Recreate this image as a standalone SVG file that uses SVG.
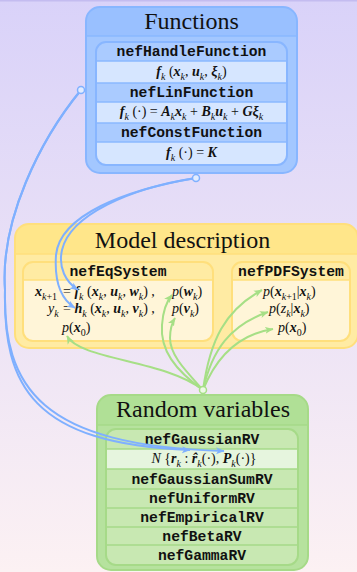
<svg xmlns="http://www.w3.org/2000/svg" width="357" height="572" viewBox="0 0 357 572">
<defs>
<linearGradient id="bg" x1="0" y1="0" x2="0" y2="1"><stop offset="0" stop-color="#d9d2f9"/><stop offset="1" stop-color="#fcf1f3"/></linearGradient>
<clipPath id="co1"><rect x="86" y="7" width="211" height="166" rx="14"/></clipPath>
<clipPath id="co2"><rect x="15" y="224" width="343" height="124" rx="14"/></clipPath>
<clipPath id="co3"><rect x="97" y="395" width="211" height="175" rx="14"/></clipPath>
<clipPath id="cf"><rect x="96" y="42" width="191" height="123" rx="10"/></clipPath>
<clipPath id="ce"><rect x="23" y="262" width="190" height="79" rx="10"/></clipPath>
<clipPath id="cp"><rect x="232" y="262" width="118" height="79" rx="10"/></clipPath>
<clipPath id="cr"><rect x="106" y="429" width="192" height="136" rx="10"/></clipPath>
<marker id="ab" markerUnits="userSpaceOnUse" markerWidth="10" markerHeight="10" refX="8" refY="4" orient="auto"><path d="M0,0.5 L8.5,4 L0,7.5 L2.2,4 Z" fill="#7fb0ff"/></marker>
<marker id="ag" markerUnits="userSpaceOnUse" markerWidth="10" markerHeight="10" refX="8" refY="4" orient="auto"><path d="M0,0.5 L8.5,4 L0,7.5 L2.2,4 Z" fill="#a6df86"/></marker>
<style>
.title{font-family:"Liberation Serif","Times New Roman",serif;font-size:24px;fill:#111;text-anchor:middle}
.cls{font-family:"Liberation Mono","Courier New",monospace;font-size:14.7px;font-weight:bold;fill:#111;text-anchor:middle}
.m{font-family:"Liberation Serif","DejaVu Serif",serif;font-size:14px;fill:#111}
.v{font-weight:bold;font-style:italic}
.i{font-style:italic}
.s{font-size:10px;font-style:italic;font-weight:normal}
.n{font-size:10px;font-style:normal;font-weight:normal}
.bl{fill:none;stroke:#7fb0ff;stroke-width:2}
.gr{fill:none;stroke:#a6df86;stroke-width:2}
.sepB{stroke:#8ab8ff;stroke-width:1.5}
.sepY{stroke:#ffdf7c;stroke-width:1.5}
.sepG{stroke:#a6da88;stroke-width:1.5}
</style>
</defs>
<rect x="0" y="0" width="357" height="572" fill="url(#bg)"/>
<rect x="0" y="0" width="357" height="1.5" fill="#c4bcf0"/>

<g id="functions">
<rect x="86" y="7" width="211" height="166" rx="14" fill="#a3c7ff"/>
<rect x="86" y="7" width="211" height="29" fill="#99c0ff" clip-path="url(#co1)"/>
<line x1="86" y1="36" x2="297" y2="36" class="sepB"/>
<rect x="86" y="7" width="211" height="166" rx="14" fill="none" stroke="#88b6ff" stroke-width="2"/>
<text class="title" x="191.5" y="29">Functions</text>
<g clip-path="url(#cf)">
<rect x="96" y="42" width="191" height="19" fill="#aacbff"/>
<rect x="96" y="61" width="191" height="22" fill="#d6e6ff"/>
<rect x="96" y="83" width="191" height="19" fill="#aacbff"/>
<rect x="96" y="102" width="191" height="21" fill="#d6e6ff"/>
<rect x="96" y="123" width="191" height="19" fill="#aacbff"/>
<rect x="96" y="142" width="191" height="23" fill="#d6e6ff"/>
</g>
<line x1="96" y1="61" x2="287" y2="61" class="sepB"/>
<line x1="96" y1="83" x2="287" y2="83" class="sepB"/>
<line x1="96" y1="102" x2="287" y2="102" class="sepB"/>
<line x1="96" y1="123" x2="287" y2="123" class="sepB"/>
<line x1="96" y1="142" x2="287" y2="142" class="sepB"/>
<rect x="96" y="42" width="191" height="123" rx="10" fill="none" stroke="#88b6ff" stroke-width="2"/>
<text class="cls" x="191.5" y="56">nefHandleFunction</text>
<text class="m" x="191.5" y="76" text-anchor="middle"><tspan class="v">f</tspan><tspan class="s" dy="3.5">k</tspan><tspan dy="-3.5"> (</tspan><tspan class="v">x</tspan><tspan class="s" dy="3.5">k</tspan><tspan dy="-3.5">, </tspan><tspan class="v">u</tspan><tspan class="s" dy="3.5">k</tspan><tspan dy="-3.5">, </tspan><tspan class="v">ξ</tspan><tspan class="s" dy="3.5">k</tspan><tspan dy="-3.5">)</tspan></text>
<text class="cls" x="191.5" y="97">nefLinFunction</text>
<text class="m" x="191.5" y="116" text-anchor="middle"><tspan class="v">f</tspan><tspan class="s" dy="3.5">k</tspan><tspan dy="-3.5"> (·) = </tspan><tspan class="v">A</tspan><tspan class="s" dy="3.5">k</tspan><tspan class="v" dy="-3.5">x</tspan><tspan class="s" dy="3.5">k</tspan><tspan dy="-3.5"> + </tspan><tspan class="v">B</tspan><tspan class="s" dy="3.5">k</tspan><tspan class="v" dy="-3.5">u</tspan><tspan class="s" dy="3.5">k</tspan><tspan dy="-3.5"> + </tspan><tspan class="v">Gξ</tspan><tspan class="s" dy="3.5">k</tspan></text>
<text class="cls" x="191.5" y="137">nefConstFunction</text>
<text class="m" x="191.5" y="157" text-anchor="middle"><tspan class="v">f</tspan><tspan class="s" dy="3.5">k</tspan><tspan dy="-3.5"> (·) = </tspan><tspan class="v">K</tspan></text>
</g>

<g id="model">
<rect x="15" y="224" width="343" height="124" rx="14" fill="#ffeba3"/>
<rect x="15" y="224" width="343" height="30" fill="#ffe68a" clip-path="url(#co2)"/>
<line x1="15" y1="254" x2="358" y2="254" class="sepY"/>
<rect x="15" y="224" width="343" height="124" rx="14" fill="none" stroke="#ffdf7c" stroke-width="2"/>
<text class="title" x="182.5" y="248">Model description</text>
</g>

<g id="nefEqSystem">
<g clip-path="url(#ce)">
<rect x="23" y="262" width="190" height="18" fill="#ffeba3"/>
<rect x="23" y="280" width="190" height="61" fill="#fff5d8"/>
</g>
<line x1="23" y1="280" x2="213" y2="280" class="sepY"/>
<rect x="23" y="262" width="190" height="79" rx="10" fill="none" stroke="#ffdf7c" stroke-width="2"/>
<text class="cls" x="118" y="276">nefEqSystem</text>
<text class="m" x="35" y="296"><tspan class="v">x</tspan><tspan class="n" dy="3.5"><tspan class="i">k</tspan>+1</tspan></text>
<text class="m" x="63" y="296"><tspan>= </tspan><tspan class="v">f</tspan><tspan class="s" dy="3.5">k</tspan><tspan dy="-3.5"> (</tspan><tspan class="v">x</tspan><tspan class="s" dy="3.5">k</tspan><tspan dy="-3.5">, </tspan><tspan class="v">u</tspan><tspan class="s" dy="3.5">k</tspan><tspan dy="-3.5">, </tspan><tspan class="v">w</tspan><tspan class="s" dy="3.5">k</tspan><tspan dy="-3.5">) ,</tspan></text>
<text class="m" x="172" y="296"><tspan class="i">p</tspan><tspan>(</tspan><tspan class="v">w</tspan><tspan class="s" dy="3.5">k</tspan><tspan dy="-3.5">)</tspan></text>
<text class="m" x="48" y="313"><tspan class="i">y</tspan><tspan class="s" dy="3.5">k</tspan></text>
<text class="m" x="63" y="313"><tspan>= </tspan><tspan class="v">h</tspan><tspan class="s" dy="3.5">k</tspan><tspan dy="-3.5"> (</tspan><tspan class="v">x</tspan><tspan class="s" dy="3.5">k</tspan><tspan dy="-3.5">, </tspan><tspan class="v">u</tspan><tspan class="s" dy="3.5">k</tspan><tspan dy="-3.5">, </tspan><tspan class="v">v</tspan><tspan class="s" dy="3.5">k</tspan><tspan dy="-3.5">) ,</tspan></text>
<text class="m" x="172" y="313"><tspan class="i">p</tspan><tspan>(</tspan><tspan class="v">v</tspan><tspan class="s" dy="3.5">k</tspan><tspan dy="-3.5">)</tspan></text>
<text class="m" x="62" y="332"><tspan class="i">p</tspan><tspan>(</tspan><tspan class="v">x</tspan><tspan class="n" dy="3.5">0</tspan><tspan dy="-3.5">)</tspan></text>
</g>

<g id="nefPDFSystem">
<g clip-path="url(#cp)">
<rect x="232" y="262" width="118" height="18" fill="#ffeba3"/>
<rect x="232" y="280" width="118" height="61" fill="#fff5d8"/>
</g>
<line x1="232" y1="280" x2="350" y2="280" class="sepY"/>
<rect x="232" y="262" width="118" height="79" rx="10" fill="none" stroke="#ffdf7c" stroke-width="2"/>
<text class="cls" x="291" y="276">nefPDFSystem</text>
<text class="m" x="263" y="296"><tspan class="i">p</tspan><tspan>(</tspan><tspan class="v">x</tspan><tspan class="n" dy="3.5"><tspan class="i">k</tspan>+1</tspan><tspan dy="-3.5">|</tspan><tspan class="v">x</tspan><tspan class="s" dy="3.5">k</tspan><tspan dy="-3.5">)</tspan></text>
<text class="m" x="269" y="313"><tspan class="i">p</tspan><tspan>(</tspan><tspan class="i">z</tspan><tspan class="s" dy="3.5">k</tspan><tspan dy="-3.5">|</tspan><tspan class="v">x</tspan><tspan class="s" dy="3.5">k</tspan><tspan dy="-3.5">)</tspan></text>
<text class="m" x="278" y="332"><tspan class="i">p</tspan><tspan>(</tspan><tspan class="v">x</tspan><tspan class="n" dy="3.5">0</tspan><tspan dy="-3.5">)</tspan></text>
</g>

<g id="random">
<rect x="97" y="395" width="211" height="175" rx="14" fill="#b6e29e"/>
<rect x="97" y="395" width="211" height="30" fill="#b0e096" clip-path="url(#co3)"/>
<line x1="97" y1="425" x2="308" y2="425" class="sepG"/>
<rect x="97" y="395" width="211" height="175" rx="14" fill="none" stroke="#a6da88" stroke-width="2"/>
<text class="title" x="203" y="417">Random variables</text>
<g clip-path="url(#cr)">
<rect x="106" y="429" width="192" height="136" fill="#c8e8b2"/>
<rect x="106" y="449" width="192" height="20" fill="#e6f5de"/>
</g>
<line x1="106" y1="449" x2="298" y2="449" class="sepG"/>
<line x1="106" y1="469" x2="298" y2="469" class="sepG"/>
<line x1="106" y1="489" x2="298" y2="489" class="sepG"/>
<line x1="106" y1="508" x2="298" y2="508" class="sepG"/>
<line x1="106" y1="527" x2="298" y2="527" class="sepG"/>
<line x1="106" y1="545" x2="298" y2="545" class="sepG"/>
<rect x="106" y="429" width="192" height="136" rx="10" fill="none" stroke="#a6da88" stroke-width="2"/>
<text class="cls" x="202" y="444">nefGaussianRV</text>
<text class="m" x="204" y="463" text-anchor="middle"><tspan class="i">N</tspan><tspan> {</tspan><tspan class="v">r</tspan><tspan class="s" dy="3.5">k</tspan><tspan dy="-3.5"> : </tspan><tspan class="v">r̂</tspan><tspan class="s" dy="3.5">k</tspan><tspan dy="-3.5">(·), </tspan><tspan class="v">P</tspan><tspan class="s" dy="3.5">k</tspan><tspan dy="-3.5">(·)}</tspan></text>
<text class="cls" x="202" y="484">nefGaussianSumRV</text>
<text class="cls" x="202" y="503">nefUniformRV</text>
<text class="cls" x="202" y="522">nefEmpiricalRV</text>
<text class="cls" x="202" y="541">nefBetaRV</text>
<text class="cls" x="202" y="560">nefGammaRV</text>
</g>

<g id="connectors">
<path class="bl" d="M81,90 C40,140 0,220 5,290 C3,385 32,444 190,450" marker-end="url(#ab)"/>
<path class="bl" d="M81,90 C40,140 0,220 5,290 C3,387 40,446 224,451" marker-end="url(#ab)"/>
<path class="bl" d="M196,178 C130,188 70,215 62,250 C58,268 66,282 78,290" marker-end="url(#ab)"/>
<path class="bl" d="M196,178 C125,190 60,215 56,255 C54,285 62,300 75,308" marker-end="url(#ab)"/>
<circle cx="81" cy="90" r="3.5" fill="#e2ecff" stroke="#7fb0ff" stroke-width="1.5"/>
<circle cx="196" cy="178" r="3.5" fill="#e2ecff" stroke="#7fb0ff" stroke-width="1.5"/>
<path class="gr" d="M203,390 C165,360 80,360 67,336" marker-end="url(#ag)"/>
<path class="gr" d="M203,390 C175,370 160,350 162,325 C163,310 166,302 172,295" marker-end="url(#ag)"/>
<path class="gr" d="M203,390 C185,370 170,355 170,338 C170,330 172,323 175,318" marker-end="url(#ag)"/>
<path class="gr" d="M203,390 C210,340 225,310 262,290" marker-end="url(#ag)"/>
<path class="gr" d="M203,390 C212,350 230,325 268,312" marker-end="url(#ag)"/>
<path class="gr" d="M203,390 C215,360 235,335 273,329" marker-end="url(#ag)"/>
<circle cx="203" cy="390" r="3.5" fill="#eef9e6" stroke="#a6df86" stroke-width="1.5"/>
</g>
</svg>
